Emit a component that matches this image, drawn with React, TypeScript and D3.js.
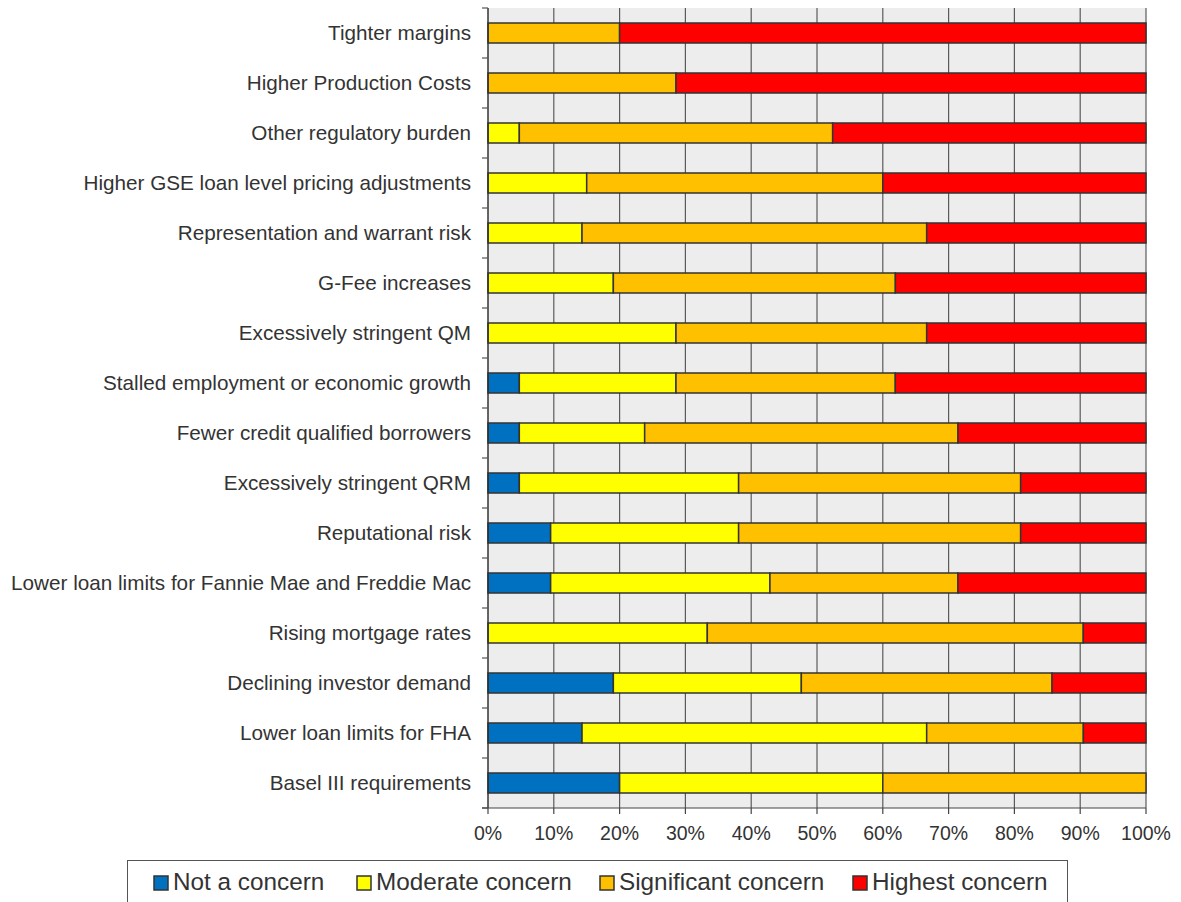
import * as d3 from "d3";

const categories = [
  "Tighter margins",
  "Higher Production Costs",
  "Other regulatory burden",
  "Higher GSE loan level pricing adjustments",
  "Representation and warrant risk",
  "G-Fee increases",
  "Excessively stringent QM",
  "Stalled employment or economic growth",
  "Fewer credit qualified borrowers",
  "Excessively stringent QRM",
  "Reputational risk",
  "Lower loan limits for Fannie Mae and Freddie Mac",
  "Rising mortgage rates",
  "Declining investor demand",
  "Lower loan limits for FHA",
  "Basel III requirements",
];

const seriesNames = ["Not a concern", "Moderate concern", "Significant concern", "Highest concern"];
const seriesColors = ["#0070C0", "#FFFF00", "#FFC000", "#FF0000"];

// percentages per category, same order as categories
const notConcern = [0, 0, 0, 0, 0, 0, 0, 4.76, 4.76, 4.76, 9.52, 9.52, 0, 19.05, 14.29, 20];
const moderate = [0, 0, 4.76, 15, 14.29, 19.05, 28.57, 23.81, 19.05, 33.33, 28.57, 33.33, 33.33, 28.57, 52.38, 40];
const significant = [20, 28.57, 47.62, 45, 52.38, 42.86, 38.1, 33.33, 47.62, 42.86, 42.86, 28.57, 57.14, 38.1, 23.81, 40];
const highest = [80, 71.43, 47.62, 40, 33.33, 38.1, 33.33, 38.1, 28.57, 19.05, 19.05, 28.57, 9.52, 14.29, 9.52, 0];

const xTicks = [0, 10, 20, 30, 40, 50, 60, 70, 80, 90, 100];

const W = 1181;
const H = 902;
const margin = { top: 8, right: 35, bottom: 94, left: 488 };

export default function App() {
  const x = d3.scaleLinear().domain([0, 100]).range([margin.left, W - margin.right]);
  const y = d3
    .scaleBand<string>()
    .domain(categories)
    .range([margin.top, H - margin.bottom])
    .paddingInner(0.6)
    .paddingOuter(0.3);

  const rows = categories.map((c, i) => ({
    cat: c,
    vals: [notConcern[i], moderate[i], significant[i], highest[i]],
  }));
  const stacked = d3
    .stack<{ cat: string; vals: number[] }, number>()
    .keys([0, 1, 2, 3])
    .value((d, k) => d.vals[k])(rows);

  const top = margin.top;
  const bottom = H - margin.bottom;
  const step = y.step();
  const font = "'Liberation Sans', Arial, sans-serif";

  const legendX = [154, 357, 600, 853];

  return (
    <svg
      width={W}
      height={H}
      viewBox={`0 0 ${W} ${H}`}
      style={{ position: "absolute", left: 0, top: 0, display: "block", background: "#fff" }}
    >
      <rect x={x(0)} y={top} width={x(100) - x(0)} height={bottom - top} fill="#ededed" />
      {xTicks.slice(1).map((t) => (
        <line key={t} x1={x(t)} x2={x(t)} y1={top} y2={bottom} stroke="#5a5a5a" strokeWidth={1.2} />
      ))}

      {stacked.map((s, k) =>
        s.map((d, i) =>
          d[1] - d[0] > 0 ? (
            <rect
              key={`${k}-${i}`}
              x={x(d[0])}
              y={y(categories[i])}
              width={x(d[1]) - x(d[0])}
              height={y.bandwidth()}
              fill={seriesColors[k]}
              stroke="#333"
              strokeWidth={1.5}
            />
          ) : null
        )
      )}

      {/* y axis */}
      <line x1={x(0)} x2={x(0)} y1={top} y2={bottom} stroke="#333" strokeWidth={1.5} />
      {d3.range(categories.length + 1).map((i) => (
        <line
          key={i}
          x1={x(0) - 6}
          x2={x(0)}
          y1={top + i * step}
          y2={top + i * step}
          stroke="#555"
          strokeWidth={1.2}
        />
      ))}
      {categories.map((c) => (
        <text
          key={c}
          x={x(0) - 17}
          y={(y(c) ?? 0) + y.bandwidth() / 2}
          dy="0.35em"
          textAnchor="end"
          fontFamily={font}
          fontSize={20.7}
          fill="#333"
        >
          {c}
        </text>
      ))}

      {/* x axis */}
      <line x1={x(0) - 6} x2={x(100)} y1={bottom} y2={bottom} stroke="#444" strokeWidth={1.2} />
      {xTicks.map((t) => (
        <g key={t}>
          <line x1={x(t)} x2={x(t)} y1={bottom} y2={bottom + 6} stroke="#444" strokeWidth={1.2} />
          <text x={x(t)} y={bottom + 32} textAnchor="middle" fontFamily={font} fontSize={19.5} fill="#333">
            {t}%
          </text>
        </g>
      ))}

      {/* legend */}
      <rect x={127.5} y={860.5} width={940} height={45} fill="#fff" stroke="#555" strokeWidth={1} />
      {seriesNames.map((n, k) => (
        <g key={n}>
          <rect
            x={legendX[k]}
            y={876}
            width={14}
            height={14}
            fill={seriesColors[k]}
            stroke="#333"
            strokeWidth={1.5}
          />
          <text x={legendX[k] + 19} y={890} fontFamily={font} fontSize={24.3} fill="#333">
            {n}
          </text>
        </g>
      ))}
    </svg>
  );
}
